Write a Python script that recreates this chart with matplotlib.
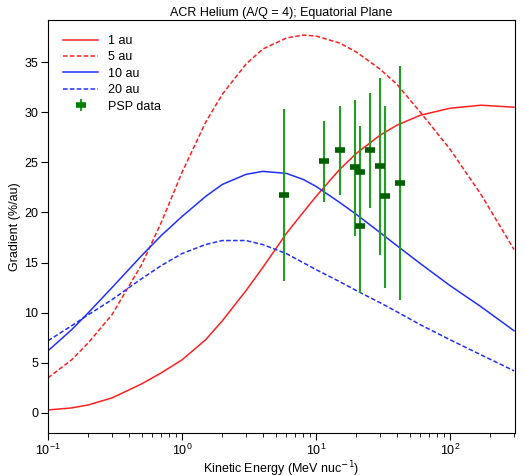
import numpy as np
import matplotlib
matplotlib.use("Agg")
import matplotlib.pyplot as plt

# model curves
e_curve = [0.1, 0.15, 0.2, 0.3, 0.5, 0.7, 1, 1.5, 2, 3, 4, 6, 8, 10, 15, 20, 30, 40, 60, 100, 170, 300]
g_1au = [0.3, 0.5, 0.8, 1.5, 2.9, 4.0, 5.3, 7.3, 9.2, 12.2, 14.5, 17.9, 20.0, 21.6, 24.3, 25.9, 27.7, 28.7, 29.7, 30.4, 30.7, 30.5]
g_5au = [3.5, 5.3, 7.0, 9.8, 14.8, 19.0, 24.0, 29.0, 31.8, 34.8, 36.3, 37.4, 37.7, 37.6, 36.9, 36.0, 34.3, 32.8, 30.0, 26.3, 21.8, 16.3]
g_10au = [6.2, 8.3, 10.0, 12.5, 15.7, 17.7, 19.6, 21.6, 22.8, 23.8, 24.1, 23.9, 23.3, 22.6, 21.0, 19.8, 18.0, 16.7, 14.9, 12.7, 10.6, 8.2]
g_20au = [7.2, 8.7, 9.8, 11.3, 13.4, 14.7, 15.9, 16.8, 17.2, 17.2, 16.8, 15.9, 15.0, 14.3, 13.1, 12.2, 11.0, 10.1, 8.8, 7.3, 5.8, 4.2]

# PSP data points
psp_e = [5.8, 11.5, 15.0, 19.5, 21.2, 21.2, 25.3, 30.0, 32.9, 42.6]
psp_g = [21.7, 25.1, 26.2, 24.5, 24.0, 18.6, 26.2, 24.6, 21.6, 22.9]
psp_hi = [30.3, 29.1, 30.6, 31.2, 28.6, 24.0, 31.9, 33.4, 30.6, 34.6]
psp_lo = [13.2, 21.0, 21.7, 17.7, 19.8, 12.0, 20.4, 15.8, 12.5, 11.3]

psp_g = np.array(psp_g)
yerr = [psp_g - np.array(psp_lo), np.array(psp_hi) - psp_g]

plt.rcParams["font.family"] = ["Liberation Sans", "DejaVu Sans"]
fig = plt.figure(figsize=(5.25, 4.75), dpi=100)
ax = fig.add_axes([48 / 525, 42 / 475, (515 - 48) / 525, (433 - 20) / 475])

ax.plot(e_curve, g_1au, color="#ff2020", lw=1.1, label="1 au")
ax.plot(e_curve, g_5au, color="#ff2020", lw=1.1, ls=(0, (3, 1.5)), label="5 au")
ax.plot(e_curve, g_10au, color="#2030ff", lw=1.1, label="10 au")
ax.plot(e_curve, g_20au, color="#2030ff", lw=1.1, ls=(0, (3, 1.5)), label="20 au")
ax.errorbar(psp_e, psp_g, yerr=yerr, fmt="none", ecolor="#20a020",
            elinewidth=1.5, capsize=0)
ax.plot(psp_e, psp_g, ls="none", marker="_", ms=7, mew=4, color="#006000")
# legend proxy for the data points
ax.errorbar([], [], yerr=[], fmt="_", color="#008000", ecolor="#20a020",
            ms=7, mew=4, elinewidth=1.5, label="PSP data")

ax.set_xscale("log")
ax.set_xlim(0.1, 305)
ax.set_ylim(-2, 39.2)
ax.set_yticks([0, 5, 10, 15, 20, 25, 30, 35])
ax.tick_params(labelsize=9, length=5, width=0.8, pad=2)
ax.tick_params(which="minor", length=3, width=0.6)
ax.set_xlabel("Kinetic Energy (MeV nuc$^{-1}$)", fontsize=9, labelpad=1)
ax.set_ylabel("Gradient (%/au)", fontsize=9, labelpad=2)
ax.set_title("ACR Helium (A/Q = 4); Equatorial Plane", fontsize=9, pad=3)
ax.legend(loc="upper left", frameon=False, fontsize=9, handlelength=2.8,
          borderaxespad=0.8, labelspacing=0.35)

fig.savefig("out.png", dpi=100)
